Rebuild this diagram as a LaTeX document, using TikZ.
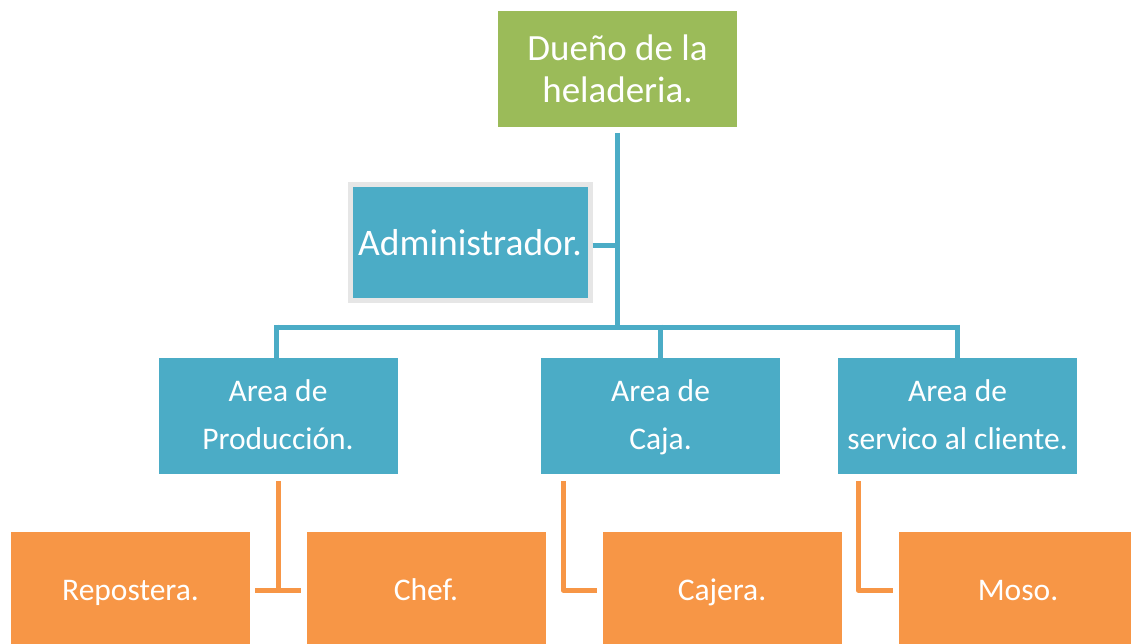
\documentclass[tikz,border=0pt]{standalone}
\usepackage{fontspec}
\setmainfont{Carlito}
\definecolor{cgreen}{HTML}{9BBB59}
\definecolor{cblue}{HTML}{4BACC6}
\definecolor{corange}{HTML}{F79646}
\definecolor{cgray}{HTML}{E6E6E6}
\begin{document}
\begin{tikzpicture}[x=1pt,y=-1pt,
  box/.style={draw=none,minimum width=239pt,minimum height=116pt,inner sep=0pt,text=white,align=center},
  bluebox/.style={box,fill=cblue,font=\fontsize{31.5}{48}\selectfont},
  orbox/.style={box,fill=corange,minimum height=122pt,font=\fontsize{31.5}{38}\selectfont},
  bline/.style={draw=cblue,line width=5pt},
  oline/.style={draw=corange,line width=5pt}]
\useasboundingbox (0,0) rectangle (1131,644);
\node[box,fill=cgreen,font=\fontsize{37}{42}\selectfont] (own) at (617.5,69) {Dueño de la\\heladeria.};
\node[box,fill=cblue,minimum width=240pt,minimum height=115pt,draw=cgray,line width=5pt,font=\fontsize{37.5}{42}\selectfont] (adm) at (470,242.5) {Administrador.};
\node[bluebox] (prod) at (278,416) {\strut Area de\\\strut Producción.};
\node[bluebox] (caja) at (660.5,416) {\strut Area de\\\strut Caja.};
\node[bluebox] (serv) at (957.5,416) {\strut Area de\\\strut servico al cliente.};
\node[orbox] (rep) at (130.5,593) {\strut Repostera.};
\node[orbox] (chef) at (426,593) {\strut Chef.};
\node[orbox] (caj) at (722,593) {\strut Cajera.};
\node[orbox] (moso) at (1018,593) {\strut Moso.};
\coordinate (top) at (617,133);
\coordinate (bar) at (617,327);
\coordinate (admj) at (617,245);
\path[bline] (top) -- (bar);
\path[bline] (adm.east |- admj) -- (admj);
\path[bline] (276,327) -- (958,327);
\path[bline] (276,324.5) -- (276,358);
\path[bline] (660.5,324.5) -- (660.5,358);
\path[bline] (957.5,324.5) -- (957.5,358);
\path[oline] (278,481) -- (278,590);
\path[oline] (rep.east |- 0,590) ++(5,0) -- ([xshift=-5pt]chef.west |- 0,590);
\path[oline,line join=round] (563,481) -- (563,590) -- ([xshift=-5pt]caj.west |- 0,590);
\path[oline,line join=round] (858,481) -- (858,590) -- ([xshift=-5pt]moso.west |- 0,590);
\end{tikzpicture}
\end{document}
